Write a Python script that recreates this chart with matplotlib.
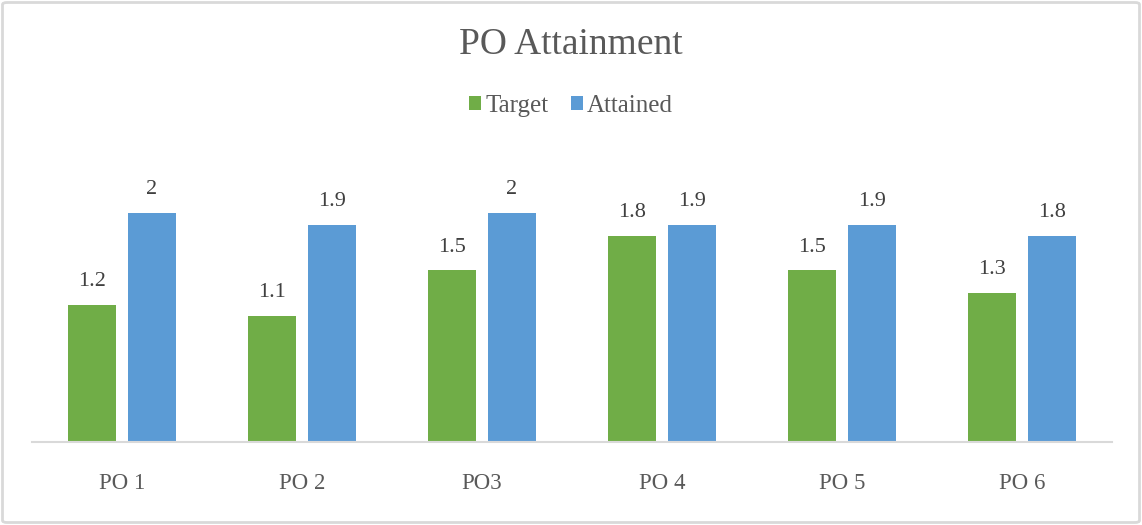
import matplotlib
matplotlib.use("Agg")
import matplotlib.pyplot as plt
from matplotlib.patches import FancyBboxPatch
import numpy as np

categories = ["PO 1", "PO 2", "PO3", "PO 4", "PO 5", "PO 6"]
target = [1.2, 1.1, 1.5, 1.8, 1.5, 1.3]
attained = [2, 1.9, 2, 1.9, 1.9, 1.8]
target_labels = ["1.2", "1.1", "1.5", "1.8", "1.5", "1.3"]
attained_labels = ["2", "1.9", "2", "1.9", "1.9", "1.8"]

GREEN = "#70AD47"
BLUE = "#5B9BD5"
TEXT = "#595959"

plt.rcParams['font.family'] = ['Liberation Serif', 'DejaVu Serif']

W, H = 1142, 525
fig = plt.figure(figsize=(W / 100, H / 100), dpi=100)

# outer border
fig.patches.append(FancyBboxPatch((2.5 / W, 2.5 / H), (W - 5) / W, (H - 5) / H,
                                  boxstyle="round,pad=0,rounding_size=0.004",
                                  transform=fig.transFigure, fill=False,
                                  edgecolor="#D9D9D9", linewidth=2))

left, right = 32, 1112
bottom, top = 442, 156
ax = fig.add_axes([left / W, 1 - bottom / H, (right - left) / W, (bottom - top) / H])

x = np.arange(len(categories))
bw = 48 / 180
gap = 12 / 180
off = (bw + gap) / 2
b1 = ax.bar(x - off, target, bw, color=GREEN, label="Target")
b2 = ax.bar(x + off, attained, bw, color=BLUE, label="Attained")

for rect, lab in zip(b1, target_labels):
    ax.annotate(lab, (rect.get_x() + rect.get_width() / 2, rect.get_height()),
                xytext=(0, 10), textcoords="offset points", ha="center", va="bottom",
                fontsize=16, color="#404040")
for rect, lab in zip(b2, attained_labels):
    ax.annotate(lab, (rect.get_x() + rect.get_width() / 2, rect.get_height()),
                xytext=(0, 10), textcoords="offset points", ha="center", va="bottom",
                fontsize=16, color="#404040")

ax.set_xlim(-0.5, len(categories) - 0.5)
ax.set_ylim(0, 2.5)
ax.set_xticks(x)
ax.set_xticklabels(categories, fontsize=16.5, color=TEXT)
ax.tick_params(axis="x", length=0, pad=22)
ax.set_yticks([])
for s in ["top", "right", "left"]:
    ax.spines[s].set_visible(False)
ax.spines["bottom"].set_color("#D9D9D9")
ax.spines["bottom"].set_linewidth(1.5)

fig.text(0.5, 1 - 45 / H, "PO Attainment", ha="center", va="center",
         fontsize=27, color=TEXT)

leg = fig.legend(handles=[b1, b2], labels=["Target", "Attained"], loc="center",
                 bbox_to_anchor=(0.5, 1 - 106 / H), ncol=2, frameon=False,
                 fontsize=18, handlelength=0.5, handleheight=0.5,
                 handletextpad=0.15, columnspacing=0.9, labelcolor=TEXT)

fig.savefig("out.png", dpi=100)
